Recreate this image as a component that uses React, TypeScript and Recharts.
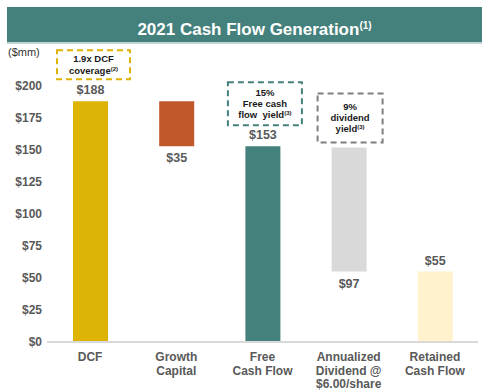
import { BarChart, Bar, XAxis, YAxis, Cell, LabelList } from "recharts";

const categoryLines = [
  ["DCF"],
  ["Growth", "Capital"],
  ["Free", "Cash Flow"],
  ["Annualized", "Dividend @", "$6.00/share"],
  ["Retained", "Cash Flow"],
];
const bases = [0, 153, 0, 55, 0];
const amounts = [188, 35, 153, 97, 55];
const labelSides = ["top", "bottom", "top", "bottom", "top"];
const yTicks = [0, 25, 50, 75, 100, 125, 150, 175, 200];

const GOLD = "#DDB306";
const RUST = "#C0582C";
const TEAL = "#45817C";
const GREY = "#D9D9D9";
const CREAM = "#FFF2CC";
const INK = "#595959";
const FONT = "'Liberation Sans', Arial, sans-serif";
const barColors = [GOLD, RUST, TEAL, GREY, CREAM];

// callout boxes: text lines (second item = superscript note), box size, gap above the bar top
const callouts = [
  { index: 0, lines: [["1.9x DCF"], ["coverage", "(2)"]], color: GOLD, w: 73, h: 29, gap: 22, dx: 3 },
  { index: 2, lines: [["15%"], ["Free cash"], ["flow\u00a0 yield", "(3)"]], color: TEAL, w: 74, h: 43, gap: 21, dx: 2 },
  { index: 3, lines: [["9%"], ["dividend"], ["yield", "(3)"]], color: "#7F7F7F", w: 65, h: 49, gap: 5, dx: 1 },
];

const data = categoryLines.map((lines, i) => ({
  name: lines.join(" "),
  base: bases[i],
  amount: amounts[i],
}));

function XTick(props: any) {
  const { x, y, payload } = props;
  const lines = categoryLines[payload.index] || [];
  return (
    <text x={x} y={y} textAnchor="middle" fontFamily={FONT} fontSize={12} fontWeight="bold" fill={INK}>
      {lines.map((l, i) => (
        <tspan key={i} x={x} dy={i === 0 ? 11 : 13.5}>
          {l}
        </tspan>
      ))}
    </text>
  );
}

function ValueLabel(props: any) {
  const { x, y, width, height, index } = props;
  const cx = x + width / 2;
  const top = labelSides[index] === "top";
  const ty = top ? y - 7 : y + height + 16;
  const note = callouts.find((c) => c.index === index);
  return (
    <g>
      <text x={cx} y={ty} textAnchor="middle" fontFamily={FONT} fontSize={12.5} fontWeight="bold" fill={INK}>
        ${amounts[index]}
      </text>
      {note && (
        <g>
          <rect
            x={cx + note.dx - note.w / 2}
            y={y - note.gap - note.h}
            width={note.w}
            height={note.h}
            fill="none"
            stroke={note.color}
            strokeWidth={2}
            strokeDasharray="6 4"
          />
          <text textAnchor="middle" fontFamily={FONT} fontSize={9.5} fontWeight="bold" fill="#1a1a1a">
            {note.lines.map((l, i) => {
              const lineH = note.lines.length === 2 ? 12 : 11;
              const startY = y - note.gap - note.h / 2 - ((note.lines.length - 1) * lineH) / 2 + 3.5;
              return (
                <tspan key={i} x={cx + note.dx} y={startY + i * lineH}>
                  {l[0]}
                  {l[1] && (
                    <tspan fontSize={6} dy={-3}>
                      {l[1]}
                    </tspan>
                  )}
                </tspan>
              );
            })}
          </text>
        </g>
      )}
    </g>
  );
}

export default function App() {
  return (
    <div style={{ position: "absolute", left: 0, top: 0, width: 482, height: 391, background: "#fff", fontFamily: FONT }}>
      <div
        style={{
          position: "absolute",
          left: 7,
          top: 7,
          width: 475,
          height: 37,
          background: TEAL,
          color: "#fff",
          fontWeight: "bold",
          fontSize: 17,
          lineHeight: "37px",
          textAlign: "center",
          borderBottom: "2px solid #BFD5D3",
          boxSizing: "border-box",
        }}
      >
        <span style={{ marginLeft: 20 }}>2021 Cash Flow Generation</span>
        <span style={{ fontSize: 10, verticalAlign: "6px" }}>(1)</span>
      </div>
      <div style={{ position: "absolute", left: 8, top: 46, fontSize: 11, color: "#333" }}>($mm)</div>
      <BarChart
        width={482}
        height={391}
        data={data}
        margin={{ top: 86, right: 4, bottom: 4, left: 0 }}
        barCategoryGap={0}
        style={{ position: "absolute", left: 0, top: 0 }}
      >
        <XAxis
          dataKey="name"
          interval={0}
          height={45}
          tickLine={false}
          axisLine={{ stroke: GREY, strokeWidth: 2 }}
          tick={<XTick />}
        />
        <YAxis
          width={47}
          domain={[0, 200]}
          ticks={yTicks}
          axisLine={false}
          tickLine={false}
          tickSize={3}
          tickMargin={2}
          tickFormatter={(v: number) => `$${v}`}
          tick={{ fontSize: 12, fontFamily: FONT, fontWeight: "bold", fill: INK }}
        />
        <Bar dataKey="base" stackId="w" fill="transparent" barSize={35} isAnimationActive={false} />
        <Bar dataKey="amount" stackId="w" barSize={35} isAnimationActive={false}>
          {data.map((d, i) => (
            <Cell key={d.name} fill={barColors[i]} />
          ))}
          <LabelList dataKey="amount" content={<ValueLabel />} />
        </Bar>
      </BarChart>
    </div>
  );
}
